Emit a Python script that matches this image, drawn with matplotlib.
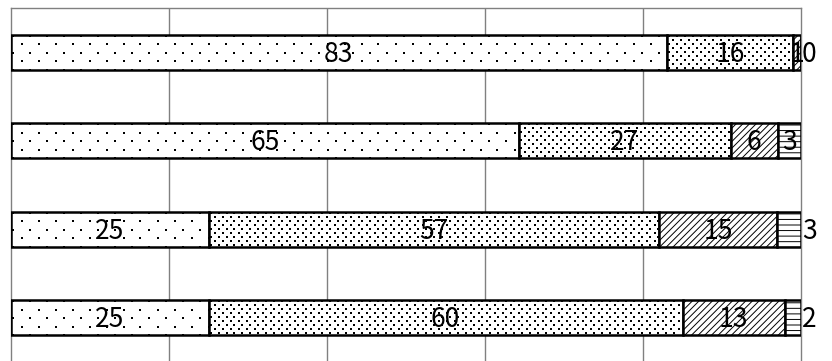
import matplotlib
matplotlib.use('Agg')
import matplotlib.pyplot as plt
import matplotlib.transforms as mtransforms
import numpy as np

plt.rcParams['font.family'] = ['Noto Sans CJK JP', 'DejaVu Sans']
plt.rcParams['hatch.linewidth'] = 0.7

# rows top to bottom, four parts each (percent)
rows = ['A', 'B', 'C', 'D']
part1 = [83, 65, 25, 25]
part2 = [16, 27, 57, 60]
part3 = [1, 6, 15, 13]
part4 = [0, 3, 3, 2]

# fill style per part: (dx px, dy px) dot lattice, or a hatch string
FILLS = [('dots', 17, 8.5), ('dots', 8, 4), ('hatch', '/////'), ('hatch', '---')]
GRID = '#808080'

W, H = 832, 361
AX = [11, -1, 790, 354]   # pixel box of the axes

parts = np.array([part1, part2, part3, part4], dtype=float)
widths = parts / parts.sum(axis=0) * 100

fig = plt.figure(figsize=(W/100, H/100), dpi=100)
ax = fig.add_axes([AX[0]/W, AX[1]/H, AX[2]/W, AX[3]/H])
ax.set_xlim(0, 100)
ax.set_ylim(3.5, -0.5)

px_x = 100 / AX[2]          # data units per pixel
px_y = 4 / AX[3]

def dot_fill(patch, dx, dy):
    x0, y0 = patch.get_x(), patch.get_y()
    x1, y1 = x0 + patch.get_width(), y0 + patch.get_height()
    ys = np.arange(y0 + px_y, y1, dy * px_y)
    xs, yy = [], []
    for j, yv in enumerate(ys):
        off = (dx / 2) * (j % 2)
        xr = np.arange(x0 + (2 + off) * px_x, x1, dx * px_x)
        xs.extend(xr)
        yy.extend([yv] * len(xr))
    sc = ax.scatter(xs, yy, s=1.6, marker='s', color='black', linewidths=0, zorder=4)
    sc.set_clip_path(patch)

label_tr = mtransforms.offset_copy(ax.transData, fig, y=-7.0, units='points')

y = np.arange(len(rows))
left = np.zeros(len(rows))
for k in range(4):
    fill = FILLS[k]
    hatch = fill[1] if fill[0] == 'hatch' else None
    bars = ax.barh(y, widths[k], left=left, height=0.4, color='white',
                   edgecolor='black', linewidth=1.8, hatch=hatch, zorder=3)
    for i, b in enumerate(bars):
        if fill[0] == 'dots' and widths[k][i] > 0:
            dot_fill(b, fill[1], fill[2])
        val = int(parts[k][i])
        cx = left[i] + widths[k][i] / 2
        ha = 'center'
        # tiny last parts get their label just outside the bar
        if k == 3 and (val == 0 or i >= 2):
            cx = 100.1
            ha = 'left'
        ax.text(cx, y[i], str(val), ha=ha, va='baseline', fontsize=19,
                color='black', zorder=5, clip_on=False, transform=label_tr)
    left += widths[k]

ax.set_xticks([20, 40, 60, 80])
ax.set_yticks([])
ax.xaxis.set_ticks_position('none')
ax.set_xticklabels([])
ax.grid(axis='x', color=GRID, linewidth=1, zorder=0)
for s in ['top', 'left', 'right']:
    ax.spines[s].set_color(GRID)
    ax.spines[s].set_linewidth(1)
ax.spines['bottom'].set_visible(False)

fig.savefig('out.png', dpi=100)
